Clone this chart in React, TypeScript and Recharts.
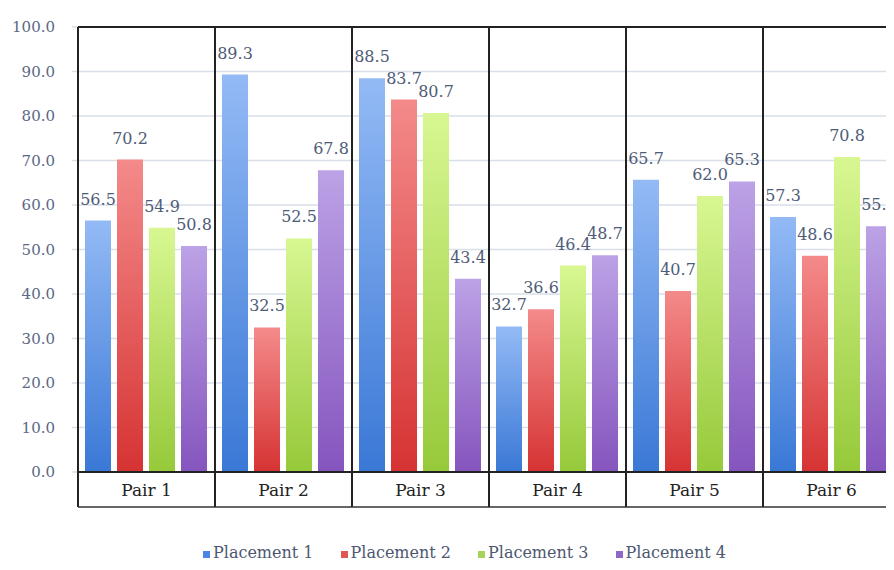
import React from 'react';
import { BarChart, Bar, XAxis, YAxis, CartesianGrid, Legend, LabelList, ReferenceLine } from 'recharts';

// Pairs along the x axis
const CATEGORIES = ['Pair 1', 'Pair 2', 'Pair 3', 'Pair 4', 'Pair 5', 'Pair 6'];

// One array per placement, in the same order as CATEGORIES
const PLACEMENT_1 = [56.5, 89.3, 88.5, 32.7, 65.7, 57.3];
const PLACEMENT_2 = [70.2, 32.5, 83.7, 36.6, 40.7, 48.6];
const PLACEMENT_3 = [54.9, 52.5, 80.7, 46.4, 62.0, 70.8];
const PLACEMENT_4 = [50.8, 67.8, 43.4, 48.7, 65.3, 55.2];

const Y_TICKS = [0, 10, 20, 30, 40, 50, 60, 70, 80, 90, 100];

const SERIES = [
  { key: 'p1', name: 'Placement 1', values: PLACEMENT_1, top: '#93baf5', bottom: '#3a78d6', swatch: '#4a86e8' },
  { key: 'p2', name: 'Placement 2', values: PLACEMENT_2, top: '#f48a8a', bottom: '#d63333', swatch: '#e05555' },
  { key: 'p3', name: 'Placement 3', values: PLACEMENT_3, top: '#d8f792', bottom: '#96c93a', swatch: '#a6d35c' },
  { key: 'p4', name: 'Placement 4', values: PLACEMENT_4, top: '#bca2e6', bottom: '#8555be', swatch: '#8e68c8' },
];

const data = CATEGORIES.map((name, i) => {
  const row: Record<string, any> = { name };
  SERIES.forEach((s) => {
    row[s.key] = s.values[i];
  });
  return row;
});

// layout
const CHART_W = 892;
const CHART_H = 562;
const Y_AXIS_W = 70;
const MARGIN_TOP = 19;
const PLOT_H = 445;
const AXIS_Y = MARGIN_TOP + PLOT_H;
const BOX_H = 35;
const BAND = (CHART_W - Y_AXIS_W) / CATEGORIES.length;

const SERIF = '"DejaVu Serif", "Liberation Serif", serif';

// category label cell, drawn as a box that runs from the top of the plot
// down through the label row
const PairTick = (props: any) => {
  const { x, payload } = props;
  const half = BAND / 2;
  return (
    <g>
      <line x1={x - half} y1={MARGIN_TOP} x2={x - half} y2={AXIS_Y + BOX_H} stroke="#222" strokeWidth={2} />
      <line x1={x + half} y1={MARGIN_TOP} x2={x + half} y2={AXIS_Y + BOX_H} stroke="#222" strokeWidth={2} />
      <line x1={x - half} y1={AXIS_Y + BOX_H} x2={x + half} y2={AXIS_Y + BOX_H} stroke="#333" strokeWidth={1.5} />
      <text x={x} y={AXIS_Y + 24} textAnchor="middle" fontSize={17} fontFamily={SERIF} fill="#222">
        {payload.value}
      </text>
    </g>
  );
};

const PlacementLegend = () => (
  <div style={{ display: 'flex', paddingLeft: 195, paddingTop: 36, fontFamily: SERIF, fontSize: 16, color: '#4d5870' }}>
    {SERIES.map((s) => (
      <div key={s.key} style={{ display: 'flex', alignItems: 'flex-end', marginRight: 27 }}>
        <span style={{ width: 7, height: 7, background: s.swatch, marginRight: 3, marginBottom: 4 }} />
        <span>{s.name}</span>
      </div>
    ))}
  </div>
);

export default function App() {
  return (
    <div style={{ width: 886, height: CHART_H, overflow: 'hidden', background: '#fff' }}>
      <BarChart
        width={CHART_W}
        height={CHART_H}
        data={data}
        margin={{ top: MARGIN_TOP, right: 0, left: 0, bottom: 8 }}
        barCategoryGap={7}
        barGap={6}
      >
        <defs>
          {SERIES.map((s) => (
            <linearGradient key={s.key} id={`grad-${s.key}`} x1="0" y1="0" x2="0" y2="1">
              <stop offset="0%" stopColor={s.top} />
              <stop offset="100%" stopColor={s.bottom} />
            </linearGradient>
          ))}
        </defs>
        <CartesianGrid vertical={false} stroke="#d9dee8" strokeWidth={1.5} />
        <YAxis
          width={Y_AXIS_W}
          domain={[0, 100]}
          ticks={Y_TICKS}
          interval={0}
          tickFormatter={(v: number) => v.toFixed(1)}
          axisLine={false}
          tickLine={{ stroke: '#d9dee8', strokeWidth: 1.5 }}
          tickSize={6}
          tickMargin={17}
          tick={{ fontSize: 15, fontFamily: SERIF, fill: '#5b6886' }}
        />
        <XAxis
          dataKey="name"
          height={BOX_H}
          axisLine={{ stroke: '#222', strokeWidth: 2 }}
          tickLine={false}
          tick={<PairTick />}
          interval={0}
        />
        <ReferenceLine y={100} stroke="#222" strokeWidth={2} />
        {SERIES.map((s) => (
          <Bar key={s.key} dataKey={s.key} name={s.name} fill={`url(#grad-${s.key})`} isAnimationActive={false}>
            <LabelList
              dataKey={s.key}
              position="top"
              offset={16}
              formatter={(v: any) => Number(v).toFixed(1)}
              style={{ fontSize: 16, fontFamily: SERIF, fill: '#4f5c78' }}
            />
          </Bar>
        ))}
        <Legend verticalAlign="bottom" height={55} content={<PlacementLegend />} />
      </BarChart>
    </div>
  );
}
